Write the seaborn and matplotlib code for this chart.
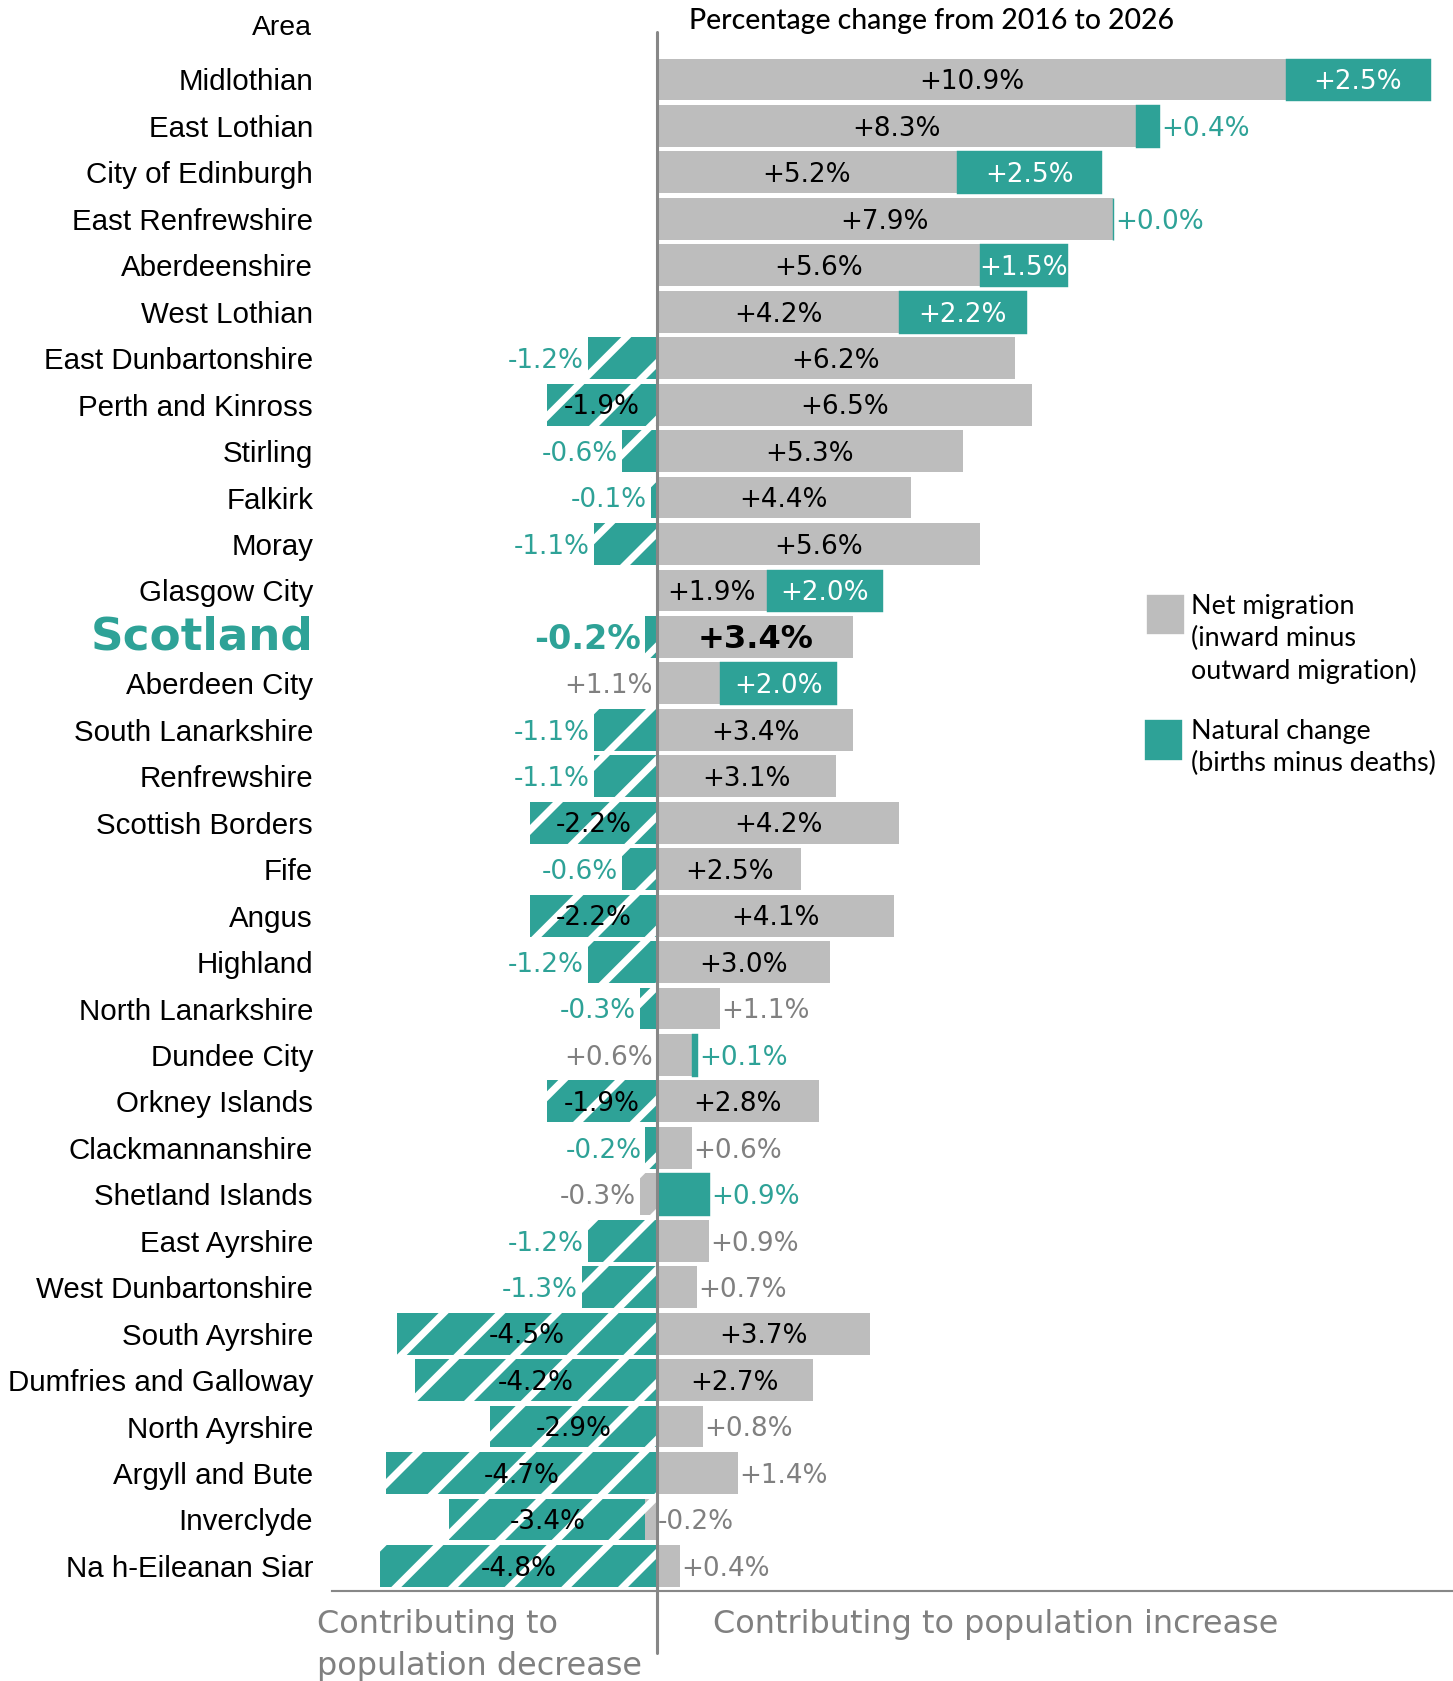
import matplotlib
matplotlib.use("Agg")
import matplotlib.pyplot as plt
from matplotlib.patches import Rectangle
import matplotlib.transforms as mtransforms
import seaborn as sns
import pandas as pd

areas = ["Midlothian", "East Lothian", "City of Edinburgh", "East Renfrewshire",
         "Aberdeenshire", "West Lothian", "East Dunbartonshire", "Perth and Kinross",
         "Stirling", "Falkirk", "Moray", "Glasgow City", "Scotland", "Aberdeen City",
         "South Lanarkshire", "Renfrewshire", "Scottish Borders", "Fife", "Angus",
         "Highland", "North Lanarkshire", "Dundee City", "Orkney Islands",
         "Clackmannanshire", "Shetland Islands", "East Ayrshire", "West Dunbartonshire",
         "South Ayrshire", "Dumfries and Galloway", "North Ayrshire", "Argyll and Bute",
         "Inverclyde", "Na h-Eileanan Siar"]
migration = [10.9, 8.3, 5.2, 7.9, 5.6, 4.2, 6.2, 6.5, 5.3, 4.4, 5.6, 1.9, 3.4, 1.1,
             3.4, 3.1, 4.2, 2.5, 4.1, 3.0, 1.1, 0.6, 2.8, 0.6, -0.3, 0.9, 0.7, 3.7,
             2.7, 0.8, 1.4, -0.2, 0.4]
natural = [2.5, 0.4, 2.5, 0.0, 1.5, 2.2, -1.2, -1.9, -0.6, -0.1, -1.1, 2.0, -0.2, 2.0,
           -1.1, -1.1, -2.2, -0.6, -2.2, -1.2, -0.3, 0.1, -1.9, -0.2, 0.9, -1.2, -1.3,
           -4.5, -4.2, -2.9, -4.7, -3.4, -4.8]

title_text = "Percentage change from 2016 to 2026"
legend_labels = ["Net migration\n(inward minus\noutward migration)",
                 "Natural change\n(births minus deaths)"]

GREY = "#BDBDBD"
TEAL = "#2EA297"
TXTGREY = "#808080"
AXGREY = "#878787"

sns.set_style("white")
plt.rcParams["hatch.linewidth"] = 3.0
plt.rcParams["font.family"] = ["DejaVu Sans"]

W, H = 1453, 1681
DPI = 170
fig = plt.figure(figsize=(W / DPI, H / DPI), dpi=DPI)

def fx(px):
    return px / W

def fy(py):
    return 1 - py / H

ax_left, ax_right = 332, 1453
ax_top, ax_bottom = 32, 1591
ax = fig.add_axes([fx(ax_left), fy(ax_bottom), fx(ax_right) - fx(ax_left),
                   fy(ax_top) - fy(ax_bottom)])

df = pd.DataFrame({"area": areas, "migration": migration, "natural": natural})
n = len(areas)

sns.barplot(data=df, x="migration", y="area", orient="h", color=GREY,
            saturation=1, width=0.9, linewidth=0, edgecolor="none", ax=ax)
for p, m in zip(ax.patches, migration):
    if m < 0:
        p.set_edgecolor("white")
        p.set_hatch("/")
        p.set_linewidth(0)

lefts = []
for m, nc in zip(migration, natural):
    if (m > 0 and nc >= 0) or (m < 0 and nc < 0):
        lefts.append(m)
    else:
        lefts.append(0)

pos_idx = [i for i in range(n) if natural[i] >= 0]
neg_idx = [i for i in range(n) if natural[i] < 0]
ax.barh([i for i in pos_idx], [natural[i] for i in pos_idx],
        left=[lefts[i] for i in pos_idx], height=0.9, color=TEAL,
        edgecolor=TEAL, linewidth=0.6)
ax.barh([i for i in neg_idx], [natural[i] for i in neg_idx],
        left=[lefts[i] for i in neg_idx], height=0.9, color=TEAL,
        edgecolor="white", linewidth=0, hatch="/")

# axes limits: zero at px 657, 1% = 57.7 px
scale = 57.7
zero_px = 657
ax.set_xlim(-(zero_px - ax_left) / scale, (ax_right - zero_px) / scale)
row0 = 79.5
step = 46.45
ax.set_ylim((ax_bottom - row0) / step, (ax_top - row0) / step)

for s in ["top", "right", "left"]:
    ax.spines[s].set_visible(False)
ax.spines["bottom"].set_color(AXGREY)
ax.spines["bottom"].set_linewidth(0.9)
ax.set_xticks([])
ax.set_xlabel("")
ax.set_ylabel("")
ax.set_yticks(range(n))
ax.set_yticklabels(areas)
ax.tick_params(axis="y", length=0, pad=8.0)
for lbl in ax.get_yticklabels():
    if lbl.get_text() == "Scotland":
        lbl.set_fontfamily("DejaVu Sans")
        lbl.set_fontweight("bold")
        lbl.set_fontsize(19.2)
        lbl.set_color(TEAL)
        lbl.set_transform(lbl.get_transform() +
                          mtransforms.ScaledTranslation(0, 4 / DPI, fig.dpi_scale_trans))
    else:
        lbl.set_fontfamily("Liberation Sans")
        lbl.set_fontsize(12.5)
        lbl.set_color("black")

# zero line
ax.axvline(0, ymin=-(1653 - ax_bottom) / (ax_bottom - ax_top), ymax=1.0,
           color=AXGREY, linewidth=1.3, clip_on=False, zorder=5)

# value labels
FS = 11.1
pad = 0.07
dy = 0.06
for i in range(n):
    m = migration[i]
    nc = natural[i]
    bold = areas[i] == "Scotland"
    fw = "bold" if bold else "normal"
    fsm = 13.6 if bold else FS
    fsn = 14.2 if bold else FS
    mlab = f"{m:+.1f}%"
    nlab = f"{nc:+.1f}%"
    yy = i + dy
    # migration label
    if abs(m) >= 1.5:
        ax.text(m / 2, yy, mlab, ha="center", va="center", color="black",
                fontsize=fsm, fontweight=fw)
    else:
        if nc > 0:
            ax.text(min(m, 0) - pad, yy, mlab, ha="right", va="center",
                    color=TXTGREY, fontsize=fsm, fontweight=fw)
        else:
            ax.text(max(m, 0) + pad * 0.3, yy, mlab, ha="left", va="center",
                    color=TXTGREY, fontsize=fsm, fontweight=fw)
    # natural label
    left = lefts[i]
    if abs(nc) >= 1.5:
        ax.text(left + nc / 2, yy, nlab, ha="center", va="center",
                color="white" if nc > 0 else "black", fontsize=fsn, fontweight=fw)
    elif nc >= 0:
        ax.text(left + nc + pad * 0.5, yy, nlab, ha="left", va="center",
                color=TEAL, fontsize=fsn, fontweight=fw)
    else:
        ax.text(left + nc - pad, yy, nlab, ha="right", va="center",
                color=TEAL, fontsize=fsn, fontweight=fw)

# headers
fig.text(fx(312), fy(28), "Area", ha="right", va="center",
         fontfamily="Liberation Sans", fontsize=12, color="black")
fig.text(fx(689), fy(21), title_text, ha="left", va="center",
         fontfamily="Lato", fontsize=12, fontweight="medium", color="black")

# bottom annotations
fig.text(fx(713), fy(1625), "Contributing to population increase", ha="left",
         va="center", fontsize=13.5, color=TXTGREY)
fig.text(fx(317), fy(1625), "Contributing to", ha="left", va="center",
         fontsize=13.5, color=TXTGREY)
fig.text(fx(317), fy(1666), "population decrease", ha="left", va="center",
         fontsize=13.5, color=TXTGREY)

# legend
fig.patches.append(Rectangle((fx(1148), fy(633)), fx(35), 37 / H, color=GREY,
                             transform=fig.transFigure, figure=fig))
fig.patches.append(Rectangle((fx(1146), fy(759)), fx(35), 38 / H, color=TEAL,
                             transform=fig.transFigure, figure=fig))
fig.text(fx(1191), fy(594), legend_labels[0], ha="left", va="top",
         fontfamily="Lato", fontsize=11.4, linespacing=1.33, color="black")
fig.text(fx(1191), fy(719), legend_labels[1], ha="left", va="top",
         fontfamily="Lato", fontsize=11.4, linespacing=1.33, color="black")

fig.savefig("out.png", dpi=DPI)
